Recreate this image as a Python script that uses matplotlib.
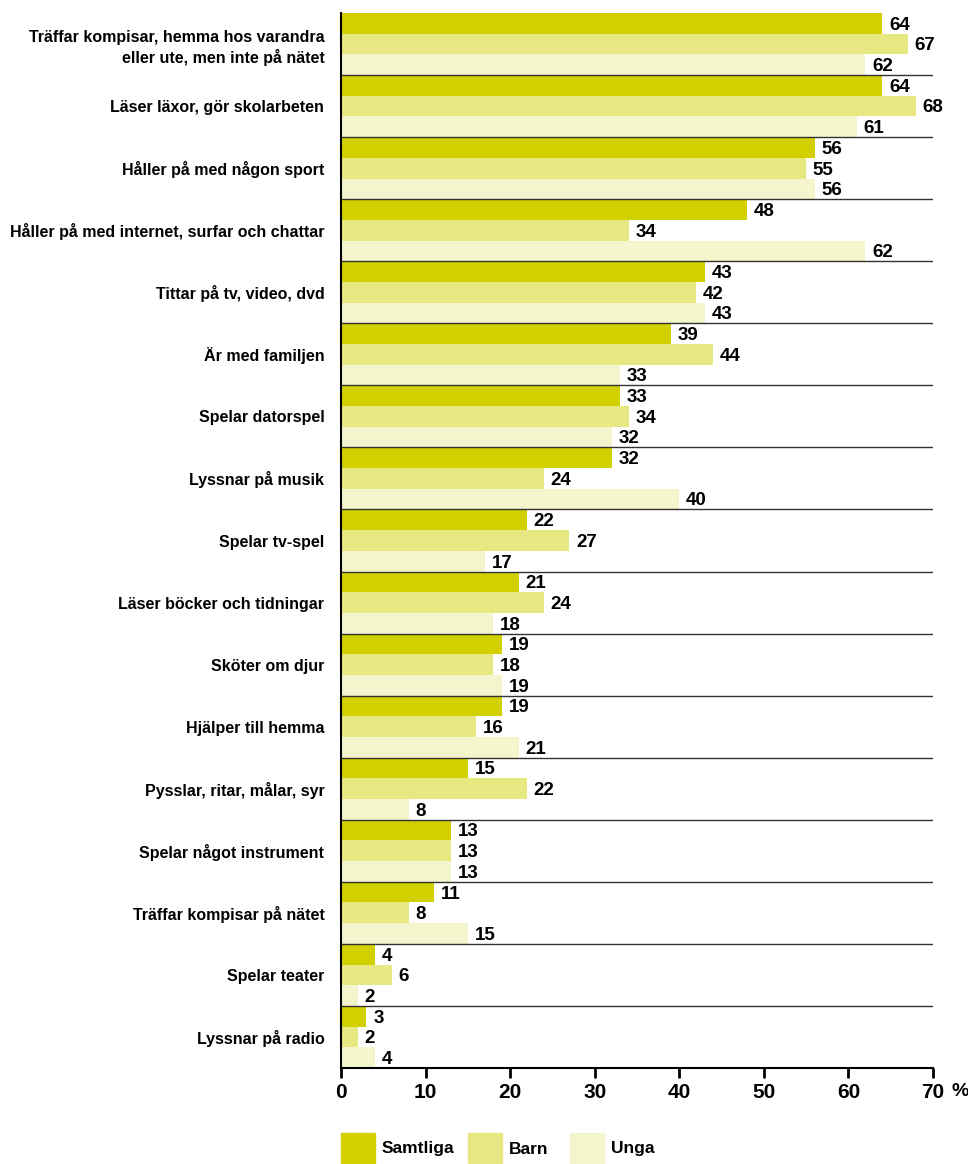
import matplotlib.pyplot as plt
from matplotlib.patches import Rectangle

categories = [
    'Träffar kompisar, hemma hos varandra\neller ute, men inte på nätet',
    'Läser läxor, gör skolarbeten',
    'Håller på med någon sport',
    'Håller på med internet, surfar och chattar',
    'Tittar på tv, video, dvd',
    'Är med familjen',
    'Spelar datorspel',
    'Lyssnar på musik',
    'Spelar tv-spel',
    'Läser böcker och tidningar',
    'Sköter om djur',
    'Hjälper till hemma',
    'Pysslar, ritar, målar, syr',
    'Spelar något instrument',
    'Träffar kompisar på nätet',
    'Spelar teater',
    'Lyssnar på radio',
]
samtliga = [64, 64, 56, 48, 43, 39, 33, 32, 22, 21, 19, 19, 15, 13, 11, 4, 3]
barn = [67, 68, 55, 34, 42, 44, 34, 24, 27, 24, 18, 16, 22, 13, 8, 6, 2]
unga = [62, 61, 56, 62, 43, 33, 32, 40, 17, 18, 19, 21, 8, 13, 15, 2, 4]
series_names = ['Samtliga', 'Barn', 'Unga']
colors = ['#d3d000', '#e8e882', '#f5f5cd']
x_ticks = [0, 10, 20, 30, 40, 50, 60, 70]

plt.rcParams['font.family'] = ['Liberation Sans Narrow', 'Liberation Sans', 'DejaVu Sans']

fig = plt.figure(figsize=(9.68, 11.64), dpi=100)
ax = fig.add_axes([0.3523, 0.0825, 0.6115, 0.9063])

h = 1 / 3
for k, vals in enumerate([samtliga, barn, unga]):
    for i, v in enumerate(vals):
        y = i - h + k * h
        ax.barh(y, v, height=h, color=colors[k], linewidth=0)
        ax.text(v + 0.8, y + 0.03, str(v), va='center', ha='left',
                fontsize=13.5, fontweight='bold')

for i in range(len(categories) - 1):
    ax.axhline(i + 0.5, color='#333333', linewidth=1)

ax.set_xlim(0, 70)
ax.set_ylim(len(categories) - 0.5, -0.5)
ax.set_yticks(range(len(categories)))
ax.set_yticklabels(categories, fontsize=11.5, fontweight='bold', linespacing=1.35)
ax.tick_params(axis='y', length=0, pad=12)
ax.set_xticks(x_ticks)
ax.set_xticklabels([str(t) for t in x_ticks], fontsize=15, fontweight='bold')
ax.tick_params(axis='x', length=7, width=2, direction='out', pad=4)
ax.annotate('%', xy=(70, 0), xycoords=('data', 'axes fraction'),
            xytext=(13, -11), textcoords='offset points',
            fontsize=14, fontweight='bold', va='top', ha='left')

for s in ['top', 'right']:
    ax.spines[s].set_visible(False)
ax.spines['left'].set_linewidth(1.5)
ax.spines['bottom'].set_linewidth(1.5)

# legend
leg_x = [341, 468, 570]
for k, name in enumerate(series_names):
    x0 = leg_x[k] / 968
    fig.patches.append(Rectangle((x0, 1 - 1163 / 1164), 34 / 968, 30 / 1164,
                                 transform=fig.transFigure, color=colors[k]))
    fig.text(x0 + 41 / 968, 1 - 1149 / 1164, name, fontsize=12.5,
             fontweight='bold', va='center', ha='left')

fig.savefig('out.png', dpi=100)
